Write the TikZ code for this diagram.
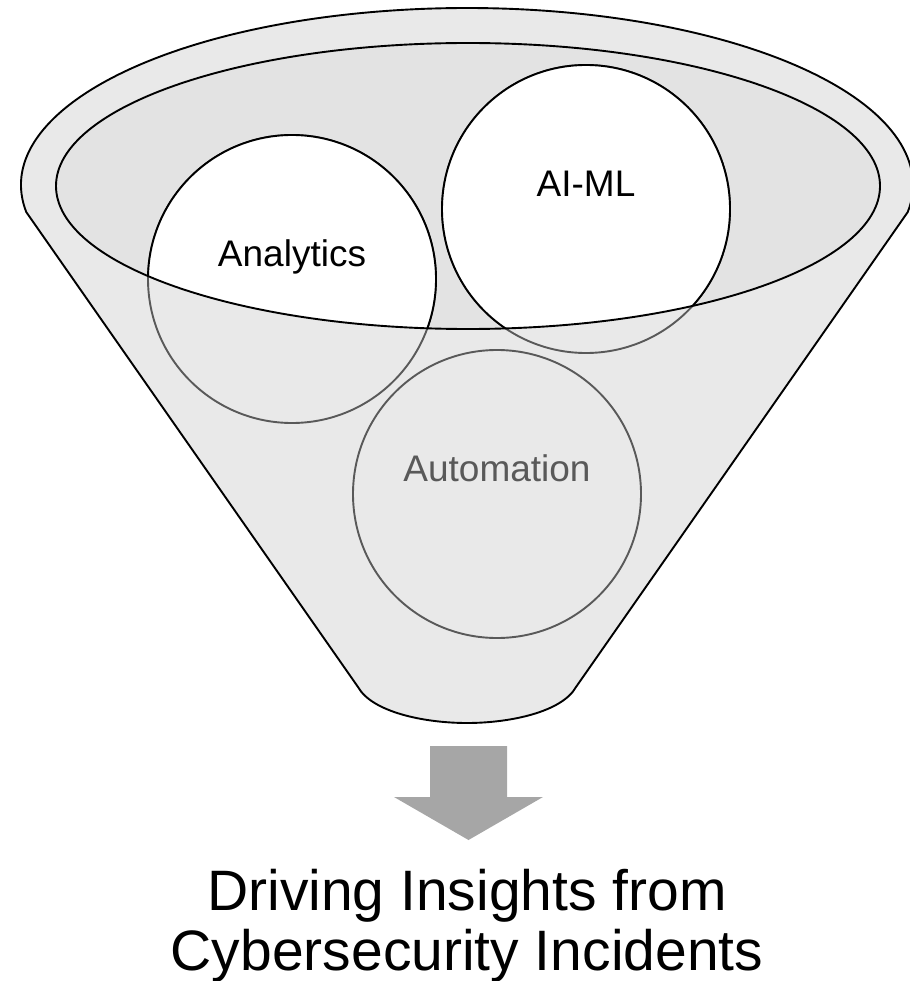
\documentclass[tikz,border=0pt]{standalone}
\usepackage{fontspec}
\setmainfont{Liberation Sans}
\usetikzlibrary{positioning}

\definecolor{funnelgray}{RGB}{233,233,233}
\definecolor{rimgray}{RGB}{227,227,227}
\definecolor{fadegray}{RGB}{89,89,89}
\definecolor{arrowgray}{RGB}{166,166,166}

\tikzset{
  ball/.style={circle, minimum size=288pt, inner sep=0pt, line width=1.9pt},
  ballfront/.style={ball, draw=fadegray, fill=funnelgray},
  balltop/.style={ball, draw=black, fill=white},
  balltext/.style={font=\fontsize{37}{40}\selectfont, anchor=base, inner sep=0pt},
  outtext/.style={font=\fontsize{57}{62}\selectfont, anchor=base, inner sep=0pt},
}

\begin{document}
\begin{tikzpicture}[x=1pt,y=1pt,yscale=-1,xscale=1]
		\useasboundingbox (0,0) rectangle (909,981);
		
		%Shape: Funnel body
		\draw [line width=1.9pt, fill=funnelgray] ([shift={(171.2:446 and 177)}]467,185) arc [start angle=171.2, end angle=368.8, x radius=446, y radius=177] -- (576,687) .. controls (562,712) and (510,723) .. (467,723) .. controls (424,723) and (372,712) .. (358,687) -- cycle ;
		%Shape: Ellipse (rim)
		\fill [rimgray] (468,186) ellipse (412 and 143) ;
		
		%Shape: Circles (below the rim)
		\node [ballfront] (ana) at (292,279) {};
		\node [ballfront] (aiml) at (586,209) {};
		\node [ballfront] (auto) at (497,494) {};
		%Shape: Circles (inside the rim)
		\begin{scope}
		\clip (468,186) ellipse (412 and 143) ;
		\node [balltop] (ana-top) at (ana.center) {};
		\node [balltop] (aiml-top) at (aiml.center) {};
		\end{scope}
		%Shape: Ellipse (rim line)
		\draw [line width=1.9pt] (468,186) ellipse (412 and 143) ;
		
		% Text Node
		\node [balltext] (ana-text) at ([yshift=-12.5pt]ana.center) {Analytics};
		% Text Node
		\node [balltext] (aiml-text) at ([yshift=-12.5pt]aiml.center) {AI-ML};
		% Text Node
		\node [balltext, text=fadegray] (auto-text) at ([yshift=-12.5pt]auto.center) {Automation};
		
		%Shape: Down Arrow
		\fill [arrowgray] (430,746) -- (507,746) -- (507,797) -- (543,797) -- (468.5,840) -- (394,797) -- (430,797) -- cycle ;
		
		% Text Node
		\node [outtext] (out-one) at (467,910) {Driving Insights from};
		% Text Node
		\node [outtext] (out-two) at (467,970) {Cybersecurity Incidents};
		
\end{tikzpicture}
\end{document}
